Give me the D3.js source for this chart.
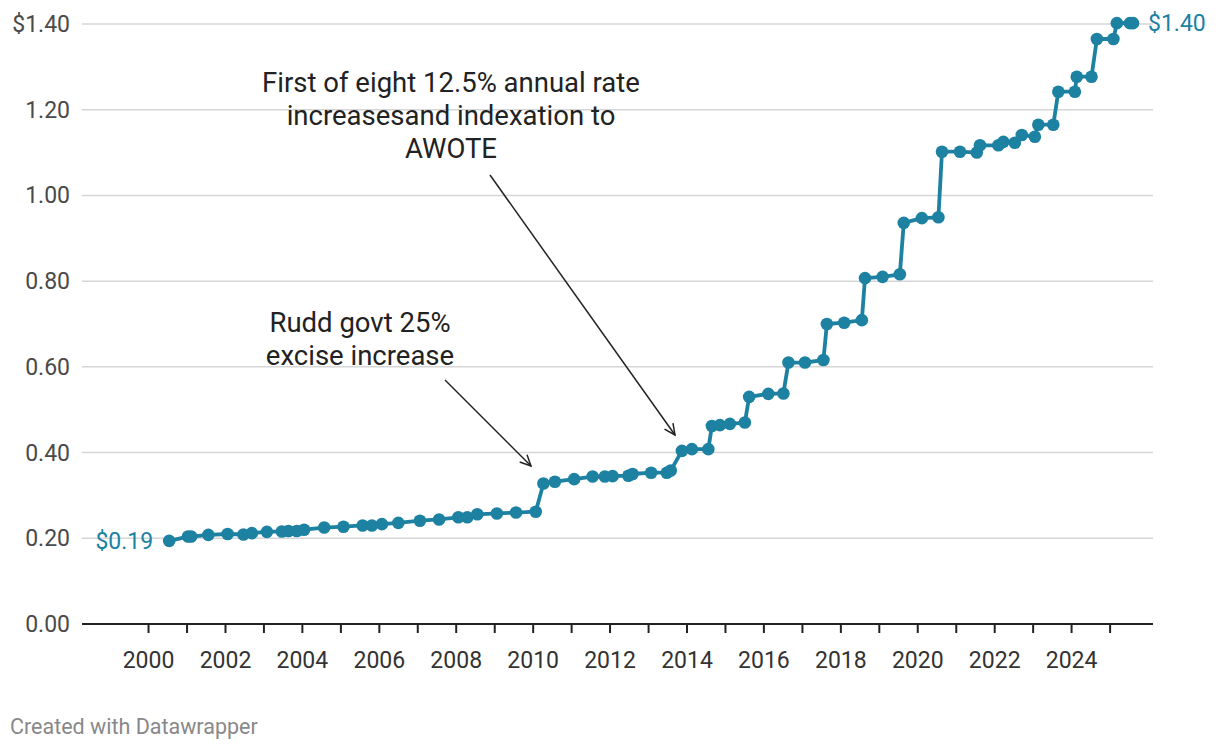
<!DOCTYPE html>
<html>
<head>
<meta charset="utf-8">
<script src="https://cdn.jsdelivr.net/npm/d3@7"></script>
<style>
  body { margin: 0; background: #fff; }
  svg text { font-family: Roboto, "Noto Sans", sans-serif; }
</style>
</head>
<body>
<div id="chart"></div>
<script>
// excise per stick
var dates = ["2000-07-20","2001-01-15","2001-02-14","2001-07-27","2002-01-26","2002-06-25","2002-09-13",
  "2003-02-03","2003-06-25","2003-08-26","2003-11-14","2004-01-22","2004-07-31","2005-01-30","2005-07-31",
  "2005-10-27","2006-01-30","2006-07-05","2007-01-26","2007-07-27","2008-01-26","2008-04-20","2008-07-24",
  "2009-01-26","2009-07-27","2010-01-30","2010-04-13","2010-07-31","2011-01-30","2011-07-24","2011-11-17",
  "2012-01-30","2012-06-28","2012-08-07","2013-01-30","2013-06-28","2013-08-04","2013-11-18","2014-02-21",
  "2014-07-27","2014-08-30","2014-11-14","2015-02-17","2015-07-09","2015-08-19","2016-02-17","2016-07-09",
  "2016-08-26","2017-01-30","2017-07-24","2017-08-26","2018-02-06","2018-07-24","2018-08-23","2019-02-06",
  "2019-07-20","2019-08-26","2020-02-14","2020-07-20","2020-08-23","2021-02-10","2021-07-20","2021-08-19",
  "2022-02-10","2022-03-29","2022-07-16","2022-09-20","2023-01-22","2023-02-24","2023-07-16","2023-09-02",
  "2024-02-06","2024-02-24","2024-07-13","2024-09-02","2025-02-06","2025-03-11","2025-07-13","2025-08-11"];

var values = [0.194,0.204,0.204,0.208,0.210,0.209,0.212,
  0.215,0.216,0.217,0.217,0.220,0.225,0.227,0.230,
  0.230,0.233,0.236,0.241,0.244,0.249,0.249,0.256,
  0.258,0.260,0.262,0.328,0.332,0.338,0.344,0.344,
  0.345,0.346,0.350,0.353,0.353,0.358,0.404,0.408,
  0.408,0.462,0.464,0.467,0.470,0.530,0.537,0.538,
  0.610,0.610,0.616,0.700,0.703,0.709,0.807,0.810,
  0.816,0.936,0.947,0.949,1.102,1.102,1.100,1.117,
  1.117,1.125,1.123,1.141,1.137,1.165,1.165,1.242,
  1.242,1.277,1.277,1.365,1.365,1.402,1.402,1.402];

var yTicks = [0, 0.2, 0.4, 0.6, 0.8, 1.0, 1.2, 1.4];
var tickYears = d3.range(2000, 2026);
var xLabelYears = [2000, 2002, 2004, 2006, 2008, 2010, 2012, 2014, 2016, 2018, 2020, 2022, 2024];

var notes = [
  {lines: ["First of eight 12.5% annual rate", "increasesand indexation to", "AWOTE"],
   tx: 451, ty: 82, from: [490, 175], to: [675, 435]},
  {lines: ["Rudd govt 25%", "excise increase"],
   tx: 360, ty: 322, from: [445, 380], to: [531, 466]}
];

var W = 1220, H = 750,
    mLeft = 82, mRight = 1153, mTop = 24, mBottom = 624,
    teal = "#1d81a2";

var parse = d3.timeParse("%Y-%m-%d");
var data = dates.map(function(d, i) { return {date: parse(d), value: values[i]}; });

var svg = d3.select("#chart").append("svg")
  .attr("width", W).attr("height", H);

var x = d3.scaleTime()
  .domain([new Date(1998, 3, 14), new Date(2026, 1, 17)])
  .range([mLeft, mRight]);
var y = d3.scaleLinear().domain([0, 1.4]).range([mBottom, mTop]);

// grid
svg.append("g").selectAll("line")
  .data(yTicks.filter(function(d) { return d > 0; })).enter().append("line")
  .attr("x1", mLeft).attr("x2", mRight)
  .attr("y1", function(d) { return y(d); }).attr("y2", function(d) { return y(d); })
  .style("stroke", "#d6d6d6").style("stroke-width", 1.5);

// y labels
svg.append("g").selectAll("text")
  .data(yTicks).enter().append("text")
  .attr("x", 70).attr("y", function(d) { return y(d); })
  .attr("dy", "0.35em")
  .attr("text-anchor", "end")
  .style("font-size", "23px").style("fill", "#4a4a4a")
  .text(function(d) { return d == 1.4 ? "$1.40" : d3.format(".2f")(d); });

// x axis
var xAxis = d3.axisBottom(x)
  .tickValues(tickYears.map(function(yr) { return new Date(yr, 0, 1); }))
  .tickSize(9)
  .tickFormat(function(d) {
    var yr = d.getFullYear();
    return xLabelYears.indexOf(yr) >= 0 ? yr : "";
  });

var gx = svg.append("g").attr("transform", "translate(0," + mBottom + ")").call(xAxis);
gx.select(".domain").remove();
gx.selectAll(".tick line").style("stroke", "#222").style("stroke-width", 2);
gx.selectAll(".tick text")
  .attr("y", 28)
  .style("font-size", "23px").style("fill", "#333")
  .style("font-family", "Roboto, sans-serif");
gx.append("line")
  .attr("x1", mLeft).attr("x2", mRight)
  .style("stroke", "#222").style("stroke-width", 2);

// line + dots
var line = d3.line()
  .x(function(d) { return x(d.date); })
  .y(function(d) { return y(d.value); });

svg.append("path").datum(data)
  .attr("d", line)
  .style("fill", "none")
  .style("stroke", teal)
  .style("stroke-width", 3.8)
  .style("stroke-linejoin", "round");

svg.append("g").selectAll("circle")
  .data(data).enter().append("circle")
  .attr("cx", function(d) { return x(d.date); })
  .attr("cy", function(d) { return y(d.value); })
  .attr("r", 6.3)
  .style("fill", teal);

// end labels
var first = data[0], last = data[data.length - 1];
svg.append("text")
  .attr("x", x(first.date) - 16).attr("y", y(first.value))
  .attr("dy", "0.35em").attr("text-anchor", "end")
  .style("font-size", "23px").style("fill", teal)
  .text(d3.format("$.2f")(first.value));
svg.append("text")
  .attr("x", x(last.date) + 15).attr("y", y(last.value))
  .attr("dy", "0.35em").attr("text-anchor", "start")
  .style("font-size", "23px").style("fill", teal)
  .text(d3.format("$.2f")(last.value));

// annotations
notes.forEach(function(n) {
  var t = svg.append("text")
    .attr("text-anchor", "middle")
    .style("font-size", "27.5px").style("fill", "#222");
  n.lines.forEach(function(l, i) {
    t.append("tspan").attr("x", n.tx).attr("y", n.ty + i * 33).attr("dy", "0.35em").text(l);
  });

  svg.append("line")
    .attr("x1", n.from[0]).attr("y1", n.from[1])
    .attr("x2", n.to[0]).attr("y2", n.to[1])
    .style("stroke", "#222").style("stroke-width", 1.5);

  var ang = Math.atan2(n.to[1] - n.from[1], n.to[0] - n.from[0]),
      len = 12, spread = Math.PI / 7;
  var p1 = [n.to[0] - len * Math.cos(ang - spread), n.to[1] - len * Math.sin(ang - spread)],
      p2 = [n.to[0] - len * Math.cos(ang + spread), n.to[1] - len * Math.sin(ang + spread)];
  svg.append("path")
    .attr("d", "M" + p1 + "L" + n.to + "L" + p2)
    .style("fill", "none").style("stroke", "#222").style("stroke-width", 1.5);
});

// footer
svg.append("text")
  .attr("x", 10).attr("y", 726).attr("dy", "0.35em")
  .style("font-size", "21.5px").style("fill", "#888")
  .text("Created with Datawrapper");
</script>
</body>
</html>
